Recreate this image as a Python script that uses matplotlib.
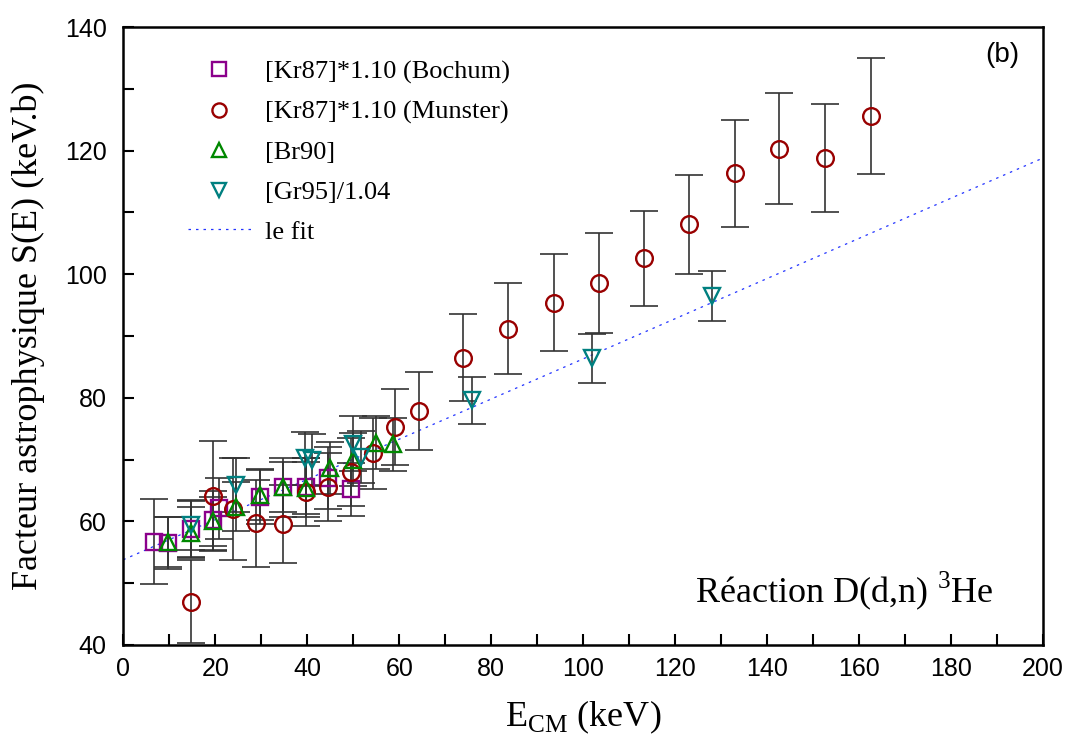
import matplotlib.pyplot as plt
from matplotlib.ticker import MultipleLocator
import numpy as np

# [Kr87]*1.10 (Bochum)
boch_x = [6.6, 9.8, 14.7, 19.6, 20.8, 29.7, 34.8, 39.7, 44.6, 49.5]
boch_y = [56.7, 56.5, 58.8, 60.2, 62.1, 64.0, 65.5, 65.5, 67.0, 65.2]
boch_err = [6.9, 4.2, 4.5, 4.8, 5.0, 4.5, 4.8, 4.8, 5.0, 4.3]

# [Kr87]*1.10 (Munster)
mun_x = [14.7, 19.6, 23.9, 28.8, 34.8, 39.7, 44.6, 49.5, 54.3, 59.1, 64.3,
         73.9, 83.7, 93.6, 103.4, 113.2, 123.0, 133.0, 142.5, 152.5, 162.5]
mun_y = [47.0, 64.1, 62.0, 59.7, 59.6, 64.8, 65.6, 68.0, 71.0, 75.3, 77.9,
         86.5, 91.2, 95.4, 98.6, 102.6, 108.1, 116.3, 120.3, 118.8, 125.6]
mun_err = [6.7, 8.9, 8.2, 7.0, 6.3, 5.5, 5.5, 5.5, 5.8, 6.2, 6.3,
           7.0, 7.4, 7.8, 8.1, 7.7, 8.0, 8.7, 9.0, 8.8, 9.4]

# [Br90]
br_x = [9.8, 14.7, 19.6, 24.5, 29.7, 34.8, 39.7, 44.9, 50.0, 54.9, 58.6]
br_y = [56.7, 58.2, 60.0, 62.4, 64.3, 65.6, 65.4, 68.6, 70.0, 72.7, 72.5]
br_err = [4.0, 4.2, 4.0, 4.0, 4.0, 4.0, 4.2, 4.2, 4.3, 4.3, 4.3]

# [Gr95]/1.04
gr_x = [14.7, 24.5, 39.5, 41.0, 50.0, 51.8, 75.9, 102.0, 128.0]
gr_y = [59.4, 65.9, 70.2, 69.9, 72.6, 70.4, 79.6, 86.4, 96.5]
gr_err = [4.0, 4.3, 4.3, 4.2, 4.5, 4.2, 3.8, 4.0, 4.1]

# le fit : S(E) = a + b*E
fit_a = 53.8
fit_b = 0.325

fig = plt.figure(figsize=(10.74, 7.55), dpi=100)
ax = fig.add_axes([0.1148, 0.1457, 0.8563, 0.8185])

err_kw = dict(fmt='none', ecolor='#333333', elinewidth=1.2, capsize=10, capthick=1.2, zorder=2)
ax.errorbar(boch_x, boch_y, yerr=boch_err, **err_kw)
ax.errorbar(mun_x, mun_y, yerr=mun_err, **err_kw)
ax.errorbar(br_x, br_y, yerr=br_err, **err_kw)
ax.errorbar(gr_x, gr_y, yerr=gr_err, **err_kw)

mk_kw = dict(linestyle='none', markersize=12, markeredgewidth=1.7,
             markerfacecolor='none', zorder=3)
ax.plot(boch_x, boch_y, marker='s', markeredgecolor='#8B008B',
        label='[Kr87]*1.10 (Bochum)', **mk_kw)
ax.plot(mun_x, mun_y, marker='o', markeredgecolor='#990000',
        label='[Kr87]*1.10 (Munster)', **mk_kw)
ax.plot(br_x, br_y, marker='^', markeredgecolor='#008800',
        label='[Br90]', **mk_kw)
ax.plot(gr_x, gr_y, marker='v', markeredgecolor='#008080',
        label='[Gr95]/1.04', **mk_kw)

xf = np.array([0, 200])
ax.plot(xf, fit_a + fit_b * xf, linestyle=(0, (2, 4)), color='#2233ff',
        linewidth=0.9, label='le fit', zorder=1)

ax.set_xlim(0, 200)
ax.set_ylim(40, 140)
ax.xaxis.set_major_locator(MultipleLocator(20))
ax.xaxis.set_minor_locator(MultipleLocator(10))
ax.yaxis.set_major_locator(MultipleLocator(20))
ax.yaxis.set_minor_locator(MultipleLocator(10))
ax.tick_params(which='both', direction='in', length=8, width=1.5,
               top=False, right=False)
ax.tick_params(axis='y', labelsize=18, pad=12)
ax.tick_params(axis='x', labelsize=18, pad=9)
for lab in ax.get_xticklabels() + ax.get_yticklabels():
    lab.set_family('Liberation Sans')
for sp in ax.spines.values():
    sp.set_linewidth(1.8)

ax.set_xlabel(r'E$_{\mathregular{CM}}$ (keV)', family='Liberation Serif',
              fontsize=26, labelpad=12)
ax.set_ylabel('Facteur astrophysique S(E) (keV.b)', family='Liberation Serif',
              fontsize=26, labelpad=14)

ax.text(0.974, 0.975, '(b)', transform=ax.transAxes, ha='right', va='top',
        family='Liberation Sans', fontsize=20)
ax.text(0.622, 0.088, r'Réaction D(d,n) $^{\mathregular{3}}$He', transform=ax.transAxes,
        ha='left', va='center', family='Liberation Serif', fontsize=26)

leg = ax.legend(loc='upper left', bbox_to_anchor=(0.044, 0.985), frameon=False,
                prop={'family': 'Liberation Serif', 'size': 19},
                markerscale=0.85, handlelength=2.4, handletextpad=0.55,
                labelspacing=0.62)

fig.savefig('out.png', dpi=100)
